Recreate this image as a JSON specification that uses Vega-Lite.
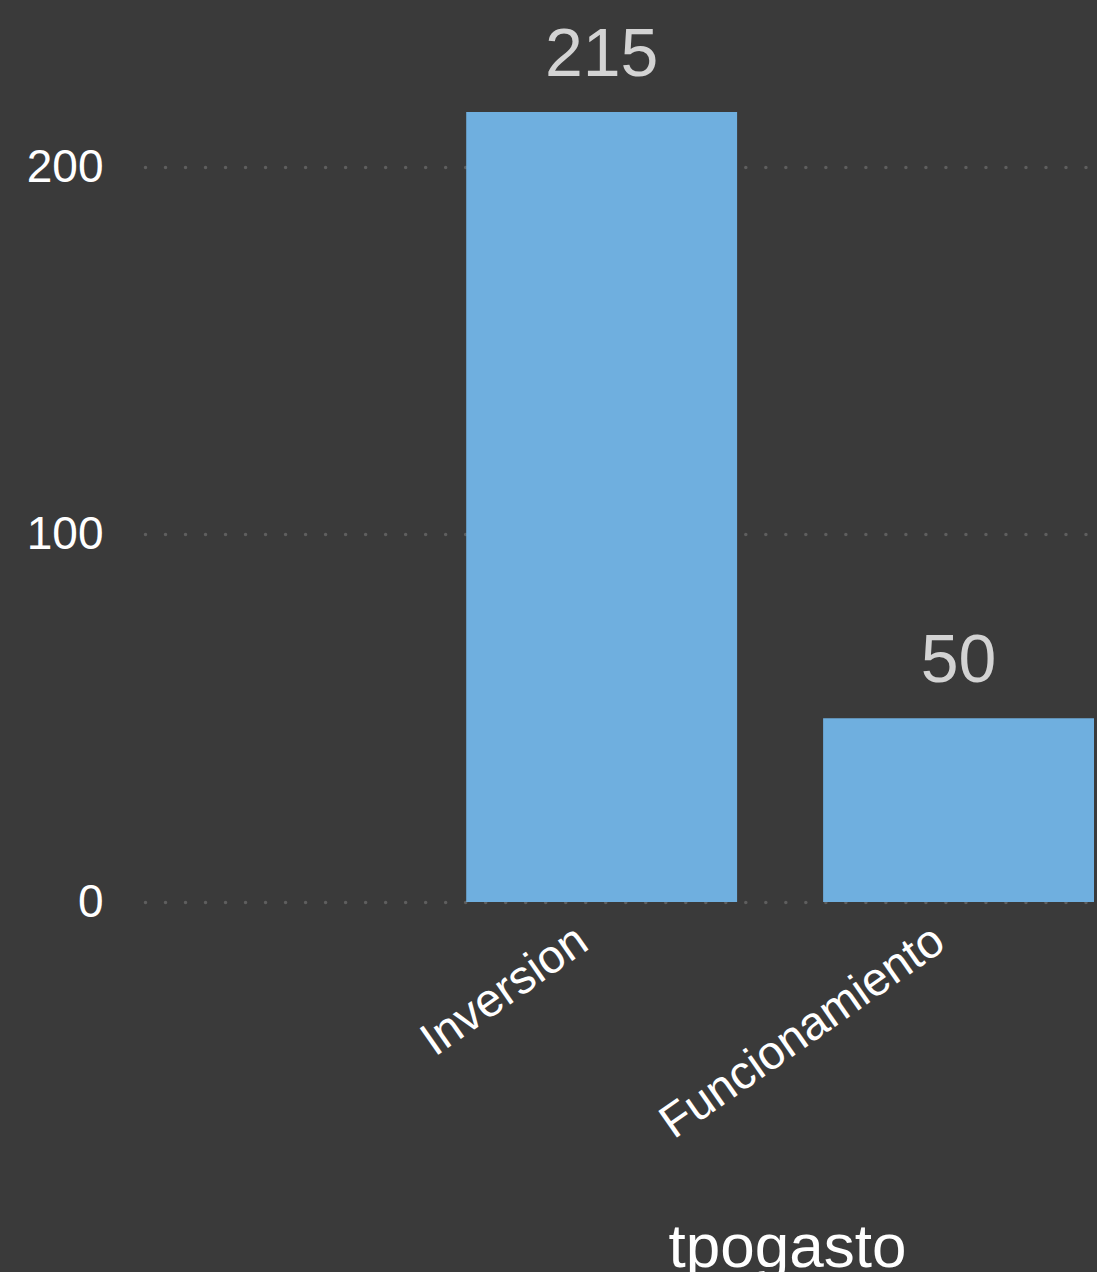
{
  "$schema": "https://vega.github.io/schema/vega-lite/v6.json",
  "width": 949,
  "height": 882,
  "autosize": {"type": "none"},
  "padding": {"left": 145, "top": 20, "right": 3, "bottom": 370},
  "background": "#3a3a3a",
  "config": {
    "view": {"stroke": null},
    "font": "Liberation Sans"
  },
  "data": {
    "values": [
      {"tpogasto": "Inversion", "count": 215},
      {"tpogasto": "Funcionamiento", "count": 50}
    ]
  },
  "encoding": {
    "x": {
      "field": "tpogasto",
      "type": "nominal",
      "sort": null,
      "scale": {"paddingInner": 0.241, "paddingOuter": 0.45, "align": 1},
      "axis": {
        "title": "tpogasto",
        "titleFontSize": 62,
        "titleFontWeight": "normal",
        "titleColor": "#ffffff",
        "titleX": 642,
        "titleY": 364,
        "titleBaseline": "alphabetic",
        "titleAlign": "center",
        "labelAngle": -35,
        "labelFontSize": 47,
        "labelColor": "#ffffff",
        "labelPadding": 15,
        "labelOffset": -32,
        "labelLimit": 0,
        "labelOverlap": false,
        "ticks": false,
        "domain": false,
        "grid": false
      }
    },
    "y": {
      "field": "count",
      "type": "quantitative",
      "scale": {"domain": [0, 240], "nice": false},
      "axis": {
        "title": null,
        "values": [0, 100, 200],
        "labelFontSize": 46,
        "labelColor": "#ffffff",
        "labelPadding": 42,
        "ticks": false,
        "domain": false,
        "grid": true,
        "gridColor": "#5e5e5e",
        "gridDash": [0.01, 20],
        "gridCap": "round",
        "gridWidth": 3.5
      }
    }
  },
  "layer": [
    {"mark": {"type": "bar", "color": "#6fafdf"}},
    {
      "mark": {"type": "text", "fontSize": 68, "color": "#d3d3d3", "baseline": "alphabetic", "dy": -36},
      "encoding": {"text": {"field": "count", "type": "quantitative"}}
    }
  ]
}
